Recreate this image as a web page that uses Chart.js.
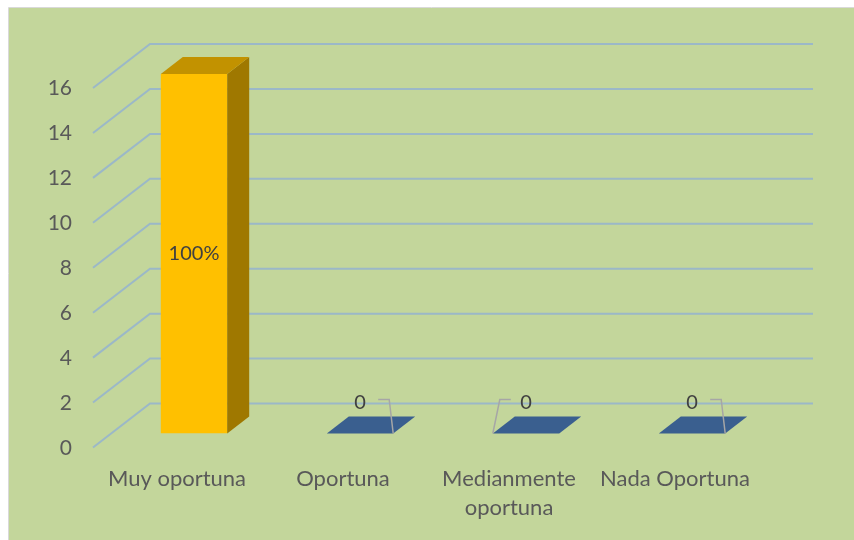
<!DOCTYPE html>
<html>
<head>
<meta charset="utf-8">
<script src="https://cdn.jsdelivr.net/npm/chart.js@4"></script>
<style>
  html, body { margin: 0; padding: 0; background: #fff; }
  canvas { display: block; }
</style>
</head>
<body>
<canvas id="myChart" width="854" height="540"></canvas>
<script>
const categories = ['Muy oportuna', 'Oportuna', ['Medianmente', 'oportuna'], 'Nada Oportuna'];
const values = [16, 0, 0, 0];
const valueLabels = ['100%', '0', '0', '0'];
const leaderSide = ['', 'right', 'left', 'right'];

const frontColors = ['#ffc000', '#3a5f8f', '#3a5f8f', '#3a5f8f'];
const topColors = ['#c29200', '#3a5f8f', '#3a5f8f', '#3a5f8f'];
const sideColors = ['#9f7800', '#2b4a70', '#2b4a70', '#2b4a70'];

const DX = 22, DY = -17; // bar depth
const fontName = 'Lato';

// white page + green chart area
const background = {
  id: 'background',
  beforeDraw(chart) {
    const ctx = chart.ctx;
    ctx.save();
    ctx.fillStyle = '#ffffff';
    ctx.fillRect(0, 0, chart.width, chart.height);
    ctx.fillStyle = '#c3d69b';
    ctx.fillRect(9, 8, chart.width - 9, chart.height - 8);
    ctx.strokeStyle = '#d9d9d9';
    ctx.lineWidth = 1;
    ctx.beginPath();
    ctx.moveTo(8.5, chart.height);
    ctx.lineTo(8.5, 7.5);
    ctx.lineTo(chart.width, 7.5);
    ctx.stroke();
    ctx.restore();
  }
};

// side wall diagonals + back wall gridlines
const walls = {
  id: 'walls',
  beforeDatasetsDraw(chart) {
    const {ctx, chartArea, scales: {y}} = chart;
    ctx.save();
    ctx.strokeStyle = '#9bb8c8';
    ctx.lineWidth = 2;
    y.ticks.forEach(t => {
      const py = y.getPixelForValue(t.value);
      ctx.beginPath();
      ctx.moveTo(chartArea.left - 18, py + 14);
      ctx.lineTo(chartArea.left + 39, py - 30);
      ctx.lineTo(chartArea.right + 38, py - 30);
      ctx.stroke();
    });
    ctx.restore();
  }
};

// top and side faces of the bars
const depth = {
  id: 'depth',
  afterDatasetsDraw(chart) {
    const ctx = chart.ctx;
    chart.getDatasetMeta(0).data.forEach((bar, i) => {
      const {x, y, base, width} = bar.getProps(['x', 'y', 'base', 'width'], true);
      const l = x - width / 2, r = x + width / 2;
      ctx.save();
      if (base - y > 0.5) {
        ctx.fillStyle = sideColors[i];
        ctx.beginPath();
        ctx.moveTo(r, y);
        ctx.lineTo(r + DX, y + DY);
        ctx.lineTo(r + DX, base + DY);
        ctx.lineTo(r, base);
        ctx.closePath();
        ctx.fill();
      }
      ctx.fillStyle = topColors[i];
      ctx.beginPath();
      ctx.moveTo(l, y);
      ctx.lineTo(l + DX, y + DY);
      ctx.lineTo(r + DX, y + DY);
      ctx.lineTo(r, y);
      ctx.closePath();
      ctx.fill();
      ctx.restore();
    });
  }
};

// value labels, with leader lines for the empty bars
const barLabels = {
  id: 'barLabels',
  afterDatasetsDraw(chart) {
    const ctx = chart.ctx;
    ctx.save();
    ctx.font = '20px ' + fontName;
    ctx.textAlign = 'center';
    ctx.textBaseline = 'middle';
    chart.getDatasetMeta(0).data.forEach((bar, i) => {
      const {x, y, base, width} = bar.getProps(['x', 'y', 'base', 'width'], true);
      const l = x - width / 2, r = x + width / 2;
      ctx.fillStyle = '#404040';
      if (base - y > 0.5) {
        ctx.fillText(valueLabels[i], x, (y + base) / 2);
        return;
      }
      ctx.fillText(valueLabels[i], x, base - 31);
      ctx.strokeStyle = '#a6a6a6';
      ctx.lineWidth = 1.5;
      ctx.beginPath();
      if (leaderSide[i] === 'right') {
        ctx.moveTo(r, base);
        ctx.lineTo(r - 4, base - 34);
        ctx.lineTo(r - 15, base - 34);
      } else {
        ctx.moveTo(l, base);
        ctx.lineTo(l + 7, base - 34);
        ctx.lineTo(l + 18, base - 34);
      }
      ctx.stroke();
    });
    ctx.restore();
  }
};

new Chart(document.getElementById('myChart'), {
  type: 'bar',
  data: {
    labels: categories,
    datasets: [{
      data: values,
      backgroundColor: frontColors,
      borderWidth: 0,
      barPercentage: 0.4,
      categoryPercentage: 1,
    }],
  },
  options: {
    responsive: false,
    animation: false,
    layout: { padding: { top: 74, right: 79, left: 0, bottom: 0 } },
    plugins: {
      legend: { display: false },
      tooltip: { enabled: false },
    },
    scales: {
      x: {
        grid: { display: false, drawTicks: false },
        border: { display: false },
        ticks: {
          color: '#595959',
          font: { family: fontName, size: 22, lineHeight: 1.36 },
          padding: 30,
          labelOffset: -17,
          maxRotation: 0,
          autoSkip: false,
        },
        afterFit(s) { s.height = 106.5; },
      },
      y: {
        min: 0,
        max: 16,
        grid: { display: false, drawTicks: false },
        border: { display: false },
        ticks: {
          stepSize: 2,
          color: '#595959',
          font: { family: fontName, size: 21 },
          padding: 39,
          labelOffset: 14.5,
        },
        afterFit(s) { s.width = 111; },
      },
    },
  },
  plugins: [background, walls, depth, barLabels],
});
</script>
</body>
</html>
